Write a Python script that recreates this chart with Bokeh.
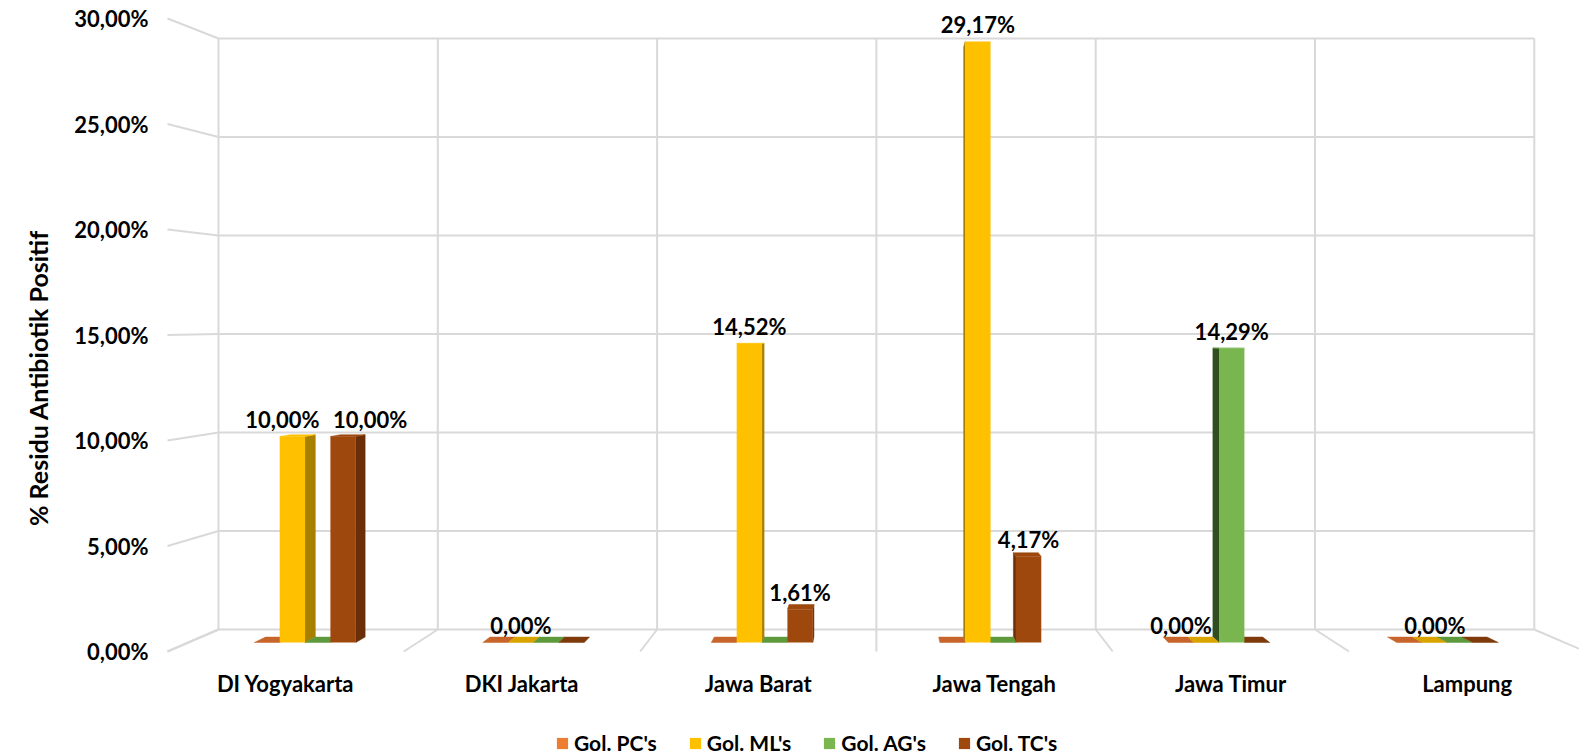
from bokeh.plotting import figure
from bokeh.models import (Range1d, LinearAxis, FixedTicker, ColumnDataSource,
                          Legend, LegendItem, Title)
from bokeh.core.properties import value
from bokeh.embed import file_html
from bokeh.resources import INLINE

# ---------------- data ----------------
categories = ["DI Yogyakarta", "DKI Jakarta", "Jawa Barat", "Jawa Tengah", "Jawa Timur", "Lampung"]
series_names = ["Gol. PC's", "Gol. ML's", "Gol. AG's", "Gol. TC's"]
pc = [0.00, 0.00, 0.00, 0.00, 0.00, 0.00]
ml = [10.00, 0.00, 14.52, 29.17, 0.00, 0.00]
ag = [0.00, 0.00, 0.00, 0.00, 14.29, 0.00]
tc = [10.00, 0.00, 1.61, 4.17, 0.00, 0.00]
# bars that carry a data label: category index -> series indices
labelled = {0: [1, 3], 1: [1], 2: [1, 3], 3: [1, 3], 4: [0, 2], 5: [1]}
y_ticks = [0, 5, 10, 15, 20, 25, 30]
y_tick_labels = ["0,00%", "5,00%", "10,00%", "15,00%", "20,00%", "25,00%", "30,00%"]
y_title = "% Residu Antibiotik Positif"

# ---------------- style ----------------
front_col = ["#ED7D31", "#FFC000", "#7AB64F", "#9E480E"]
top_col = ["#C8652A", "#D9A400", "#5E9A3C", "#7E3A0B"]
side_col = ["#99501F", "#A88000", "#2F4F1F", "#6A2F08"]
grid_col = "#D9D9D9"
FONT = value("Lato")
label_nudge = {(0, 1): -10, (0, 3): 27}   # manual label shifts (px)

# screen geometry of the three planes (px): x = ax + bx*u, y = ay - by*v
WALL = dict(ax=218.0, bx=219.3, ay=629.0, by=19.7)
BAR = dict(ax=190.3, bx=228.5, ay=642.0, by=20.6)
FRONT = dict(ax=167.0, bx=236.3, ay=651.0, by=21.1)
W, H = 1579, 755
PAGE_X, PAGE_Y = 0.0, 0.0     # observed position of the canvas on the page
FL, FR, FT, FB = 160.0, PAGE_X + W, PAGE_Y, PAGE_Y + H

def xr(pl):
    return Range1d((FL - pl["ax"]) / pl["bx"], (FR - pl["ax"]) / pl["bx"])

def yr(pl):
    return Range1d((pl["ay"] - FB) / pl["by"], (pl["ay"] - FT) / pl["by"])

def to_wall(pl, u, v):
    sx = pl["ax"] + pl["bx"] * u
    sy = pl["ay"] - pl["by"] * v
    return (sx - WALL["ax"]) / WALL["bx"], (WALL["ay"] - sy) / WALL["by"]

p = figure(width=W, height=H, output_backend="svg", toolbar_location=None,
           x_range=xr(WALL), y_range=yr(WALL),
           x_axis_location=None, y_axis_location=None,
           min_border_left=int(FL - PAGE_X), min_border_right=0,
           min_border_top=0, min_border_bottom=0)
p.extra_x_ranges = {"bar": xr(BAR), "front": xr(FRONT)}
p.extra_y_ranges = {"bar": yr(BAR), "front": yr(FRONT)}
p.outline_line_color = None
for g in p.grid:
    g.visible = False
p.background_fill_color = "white"
p.border_fill_color = "white"

ncat = len(categories)

# ---------------- back wall grid ----------------
gx0, gx1, gy0, gy1 = [], [], [], []
for t in y_ticks:
    gx0.append(0); gx1.append(ncat); gy0.append(t); gy1.append(t)
for k in range(ncat + 1):
    gx0.append(k); gx1.append(k); gy0.append(y_ticks[0]); gy1.append(y_ticks[-1])
for t in y_ticks:                       # side tick connectors (front -> wall)
    fu, fv = to_wall(FRONT, 0, t)
    gx0.append(fu); gy0.append(fv); gx1.append(0); gy1.append(t)
for k in range(ncat + 1):               # floor connectors
    fu, fv = to_wall(FRONT, k, 0)
    gx0.append(k); gy0.append(0); gx1.append(fu); gy1.append(fv)
p.segment(x0=gx0, y0=gy0, x1=gx1, y1=gy1, line_color=grid_col, line_width=2)

# ---------------- 3D bars ----------------
vals = [pc, ml, ag, tc]
w = 0.111
r = 0.982
u_vp = (876.0 - BAR["ax"]) / BAR["bx"]
v_vp = (642.0 - 340.0) / BAR["by"]

def bk(u, v):
    return u_vp + (u - u_vp) * r, v_vp + (v - v_vp) * r

front = dict(left=[], right=[], bottom=[], top=[], color=[])
sides = dict(xs=[], ys=[], color=[])
tops = dict(xs=[], ys=[], color=[])
lab = dict(x=[], y=[], text=[], dx=[])
for s in range(4):
    for i in range(ncat):
        v = vals[s][i]
        u0 = i + 0.5 + (s - 2) * w
        u1 = u0 + w
        front["left"].append(u0); front["right"].append(u1)
        front["bottom"].append(0); front["top"].append(v)
        front["color"].append(front_col[s])
        ue = u1 if (u0 + u1) / 2 < u_vp else u0
        if v > 0:
            b0 = bk(ue, 0); b1 = bk(ue, v)
            sides["xs"].append([ue, ue, b1[0], b0[0]])
            sides["ys"].append([0, v, b1[1], b0[1]])
            sides["color"].append(side_col[s])
        if v < v_vp:
            a = bk(u0, v); b = bk(u1, v)
            tops["xs"].append([u0, u1, b[0], a[0]])
            tops["ys"].append([v, v, b[1], a[1]])
            tops["color"].append(top_col[s] if v == 0 else front_col[s])
        if s in labelled[i]:
            lab["x"].append((u0 + u1) / 2); lab["y"].append(v)
            lab["text"].append(("%.2f" % v).replace(".", ",") + "%")
            lab["dx"].append(label_nudge.get((i, s), 0))

p.patches(xs="xs", ys="ys", source=ColumnDataSource(sides), fill_color="color",
          line_color="color", line_width=0.5, x_range_name="bar", y_range_name="bar")
p.patches(xs="xs", ys="ys", source=ColumnDataSource(tops), fill_color="color",
          line_color="color", line_width=0.5, x_range_name="bar", y_range_name="bar")
front_r = p.quad(left="left", right="right", bottom="bottom", top="top",
                 source=ColumnDataSource(front), fill_color="color", line_color=None,
                 x_range_name="bar", y_range_name="bar")

p.text(x="x", y="y", text="text", x_offset="dx", y_offset=-17,
       source=ColumnDataSource(lab), text_align="center", text_baseline="alphabetic",
       text_font=FONT, text_font_style="bold", text_font_size="22px",
       text_color="#000000", x_range_name="bar", y_range_name="bar")

# category labels on the front floor edge
p.text(x=[i + 0.5 for i in range(ncat)], y=[0] * ncat, text=categories,
       y_offset=32, text_align="center", text_baseline="middle",
       text_font=FONT, text_font_style="bold", text_font_size="22px",
       text_color="#000000", x_range_name="front", y_range_name="front")

# ---------------- y axis ----------------
yaxis = LinearAxis(y_range_name="front", ticker=FixedTicker(ticks=y_ticks),
                   major_label_overrides={t: l for t, l in zip(y_ticks, y_tick_labels)})
yaxis.axis_line_color = None
yaxis.major_tick_line_color = None
yaxis.minor_tick_line_color = None
yaxis.major_label_standoff = 6
yaxis.major_label_text_font = "Lato"
yaxis.major_label_text_font_style = "bold"
yaxis.major_label_text_font_size = "22px"
yaxis.major_label_text_color = "#000000"
p.add_layout(yaxis, "left")

ytitle = Title(text=y_title, align="center", offset=42, standoff=38,
               text_font="Lato", text_font_style="bold", text_font_size="25px",
               text_color="#000000")
p.add_layout(ytitle, "left")

# ---------------- legend ----------------
legend = Legend(items=[LegendItem(label=series_names[s], renderers=[front_r], index=s * ncat)
                       for s in range(4)],
                orientation="horizontal", location=(395, 0),
                glyph_width=14, glyph_height=14, label_standoff=5, spacing=31,
                padding=2, margin=0, border_line_color=None, background_fill_alpha=0,
                label_text_font="Lato", label_text_font_style="bold",
                label_text_font_size="21px", label_text_color="#000000")
p.add_layout(legend, "center")

open("out.html", "w").write(file_html(p, INLINE))
